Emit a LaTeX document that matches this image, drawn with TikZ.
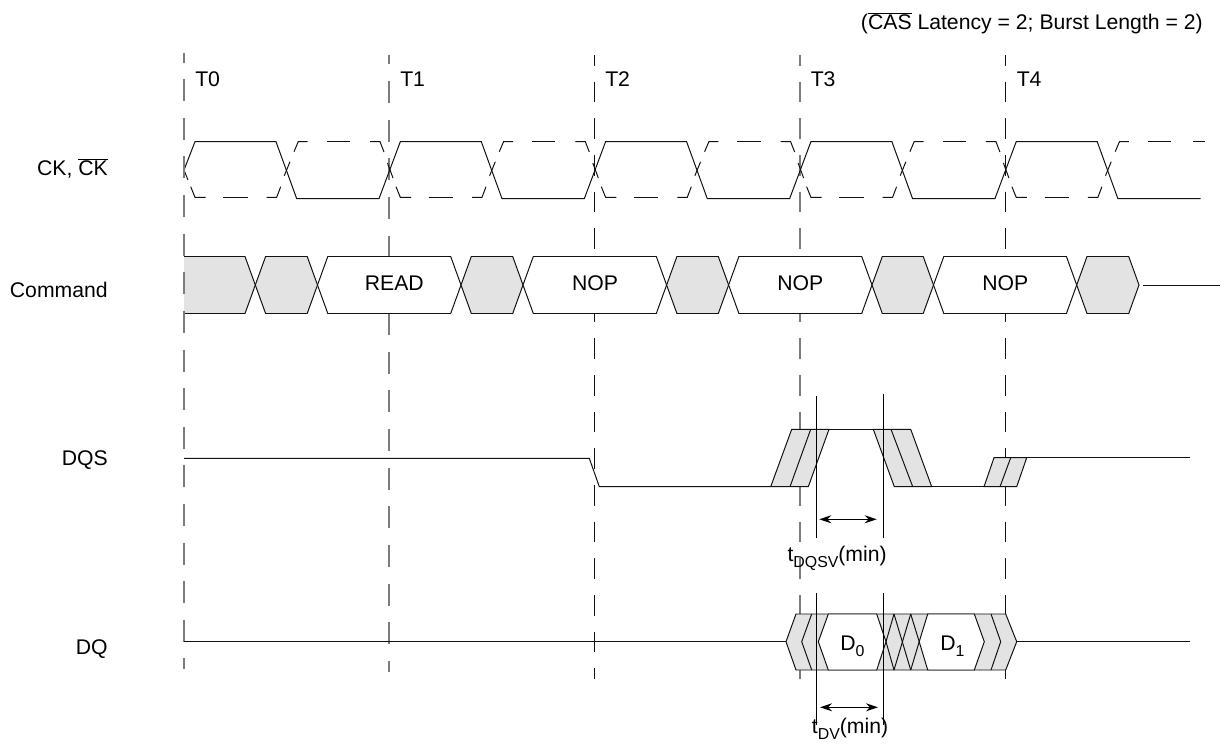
\documentclass[tikz,border=0pt]{standalone}
\usepackage{fontspec}
\setmainfont{Liberation Sans}
\usetikzlibrary{arrows.meta}
\definecolor{cellgray}{HTML}{E3E3E3}
\definecolor{ink}{HTML}{111111}
\definecolor{softink}{HTML}{7C7C7C}
\newcommand\subtxt[1]{\raisebox{-4.6pt}{\fontsize{11.9}{12}\selectfont #1}}
\newcommand\hexcell[3]{\filldraw[sig,fill=#3] (#1,285) -- ({#1+10.3},256.5) -- ({#2-10.3},256.5) -- (#2,285) -- ({#2-10.3},313.5) -- ({#1+10.3},313.5) -- cycle;}
\tikzset{
  sig/.style={draw=ink,line width=.74pt,line join=miter},
  tickA/.style={draw=softink,line width=1.1pt,dash pattern=on 16.5pt off 12.45pt,dash phase=9pt},
  tickB/.style={draw=softink,line width=1.1pt,dash pattern=on 16.5pt off 12.5pt,dash phase=9.4pt},
  tickC/.style={draw=ink,line width=.74pt,dash pattern=on 15.4pt off 12.1pt,dash phase=7.5pt},
  tickD/.style={tickC,draw=softink,line width=1.1pt},
  guide/.style={draw=black,line width=1.05pt},
  span/.style={draw=black,line width=1.05pt,{Stealth[length=9pt,width=6pt]}-{Stealth[length=9pt,width=6pt]}},
  txt/.style={inner sep=0pt,font=\fontsize{15.9}{18}\selectfont,text=black},
}
\begin{document}
\begin{tikzpicture}[x=.75pt,y=-.75pt]
\useasboundingbox (0,0) rectangle (1220,745);
\fill[white] (0,0) rectangle (1220,745);

% clock edges: vertical dashed markers
\draw[tickB] (389,55) -- (389,672);
\draw[tickC] (594.4,55) -- (594.4,679);
\draw[tickD] (800,55) -- (800,679);
\draw[tickC] (1005.4,55) -- (1005.4,679);

% labels
\node[txt,anchor=base west] (t0) at (195,87) {T0};
\node[txt,anchor=base west] (t1) at (400,87) {T1};
\node[txt,anchor=base west] (t2) at (605,87) {T2};
\node[txt,anchor=base west] (t3) at (810.5,87) {T3};
\node[txt,anchor=base west] (t4) at (1016.5,87) {T4};
\node[txt,anchor=base east] (cond) at (1203,29.5) {(\(\overline{\hbox{CAS}}\) Latency = 2; Burst Length = 2)};
\node[txt,anchor=base east] (lck) at (108,176) {CK, \(\overline{\hbox{CK}}\)};
\node[txt,anchor=base east] (lcmd) at (108,297.5) {Command};
\node[txt,anchor=base east] (ldqs) at (108,465.5) {DQS};
\node[txt,anchor=base east] (ldq) at (108,654) {DQ};

% CK solid
\draw[sig] (184,170) -- (195,141.7) -- (276,141.7) -- (296.7,198.7) -- (379,198.7)
  -- (400.3,141.7) -- (481.3,141.7) -- (502,198.7) -- (584.3,198.7)
  -- (605.6,141.7) -- (686.6,141.7) -- (707.3,198.7) -- (789.6,198.7)
  -- (810.9,141.7) -- (891.9,141.7) -- (912.6,198.7) -- (994.9,198.7)
  -- (1016.2,141.7) -- (1097.2,141.7) -- (1117.9,198.7) -- (1200.7,198.7);
% CK complement, dashed piecewise
\draw[sig] (184,170) -- (188,180);
\foreach \k in {0,205.3,410.6,615.9,821.2}{
  \begin{scope}[xshift=\k*.75pt]
  \draw[sig] (190.7,186.7) -- (195,197.3) -- (205.7,197.3);
  \draw[sig] (223.3,197.3) -- (247.7,197.3);
  \draw[sig] (266.7,197.3) -- (276.7,197.3) -- (280.7,186.7);
  \draw[sig] (284.3,175.7) -- (290,161.7);
  \draw[sig] (294,151.7) -- (298.3,141.6) -- (307.7,141.6);
  \draw[sig] (326.7,141.6) -- (350,141.6);
  \end{scope}
}
\foreach \k in {0,205.3,410.6,615.9}{
  \begin{scope}[xshift=\k*.75pt]
  \draw[sig] (370,141.6) -- (380,141.6) -- (384,152);
  \draw[sig] (387.5,163) -- (393,178);
  \end{scope}
}
\draw[sig] (1193.3,141.6) -- (1204.7,141.6);

% Command
\filldraw[sig,fill=cellgray] (184,256.5) -- (245,256.5) -- (255.3,285) -- (245,313.5) -- (184,313.5);
\hexcell{255.3}{317.5}{cellgray}
\hexcell{317.5}{461}{white}
\hexcell{461}{523}{cellgray}
\hexcell{523}{666.6}{white}
\hexcell{666.6}{728.6}{cellgray}
\hexcell{728.6}{872}{white}
\hexcell{872}{933.5}{cellgray}
\hexcell{933.5}{1076.7}{white}
\hexcell{1076.7}{1139}{cellgray}
\draw[sig] (1143,285.6) -- (1220,285.6);
\node[txt,anchor=base] (read) at (394.3,291) {READ};
\node[txt,anchor=base] (nop1) at (595,291) {NOP};
\node[txt,anchor=base] (nop2) at (800.3,291) {NOP};
\node[txt,anchor=base] (nop3) at (1005.3,291) {NOP};

\draw[tickA] (184,52.7) -- (184,669);

% DQS
\draw[sig] (184,458.3) -- (589.3,458.3) -- (599.3,486.7) -- (770.7,486.7);
\filldraw[sig,fill=cellgray] (770.7,486.7) -- (791.7,429.3) -- (829,429.3) -- (808.3,486.7) -- cycle;
\draw[sig] (790,486.7) -- (810.7,429.3);
\draw[sig] (829,429.3) -- (873.3,429.3);
\filldraw[sig,fill=cellgray] (873.3,429.3) -- (910.7,429.3) -- (931.7,486.7) -- (894.3,486.7) -- cycle;
\draw[sig] (891,429.3) -- (912.7,486.7);
\draw[sig] (931.7,486.7) -- (984,486.7);
\filldraw[sig,fill=cellgray] (984,486.7) -- (994,457.7) -- (1026.7,457.7) -- (1016.7,486.7) -- cycle;
\draw[sig] (1000,486.7) -- (1010.7,457.7);
\draw[sig] (1026.7,457.7) -- (1190,457.7);

% DQ
\draw[sig] (184,641.7) -- (786,641.7);
\filldraw[sig,fill=cellgray] (786,641.7) -- (796,614) -- (1005.7,614) -- (1016.7,641.7) -- (1005.7,670) -- (796,670) -- cycle;
\draw[sig] (811.7,614) -- (801.7,641.7) -- (811.7,670);
\filldraw[sig,fill=white] (818.3,641.7) -- (828.3,614) -- (876.7,614) -- (886,641.7) -- (876.7,670) -- (828.3,670) -- cycle;
\draw[sig] (886,641.7) -- (894,670);
\draw[sig] (886,641.7) -- (894,614);
\draw[sig] (894,614) -- (910.7,670);
\draw[sig] (910.7,614) -- (894,670);
\draw[sig] (910.7,614) -- (919.2,641.7);
\draw[sig] (910.7,670) -- (919.2,641.7);
\filldraw[sig,fill=white] (919.2,641.7) -- (927.7,614) -- (974.3,614) -- (984.3,641.7) -- (974.3,670) -- (927.7,670) -- cycle;
\draw[sig] (991,614) -- (1000.7,641.7) -- (991,670);
\draw[sig] (1016.7,641.7) -- (1190,641.7);
\node[txt,anchor=base west] (d0) at (840,650) {D\subtxt{0}};
\node[txt,anchor=base west] (d1) at (940,650) {D\subtxt{1}};

% timing guides
\draw[guide] (816.5,396) -- (816.5,538);
\draw[guide] (883.5,394) -- (883.5,538);
\draw[guide] (816.5,593) -- (816.5,725);
\draw[guide] (883.5,593) -- (883.5,725);
\coordinate (a1) at (819.3,519.3);
\coordinate (a2) at (876.7,519.3);
\coordinate (b1) at (820,707.3);
\coordinate (b2) at (878,707.3);
\draw[span] (a1) -- (a2);
\draw[span] (b1) -- (b2);
\node[txt,anchor=base west] (tdqsv) at (787.3,561) {t\subtxt{DQSV}(min)};
\node[txt,anchor=base west] (tdv) at (811.7,733) {t\subtxt{DV}(min)};
\end{tikzpicture}
\end{document}
